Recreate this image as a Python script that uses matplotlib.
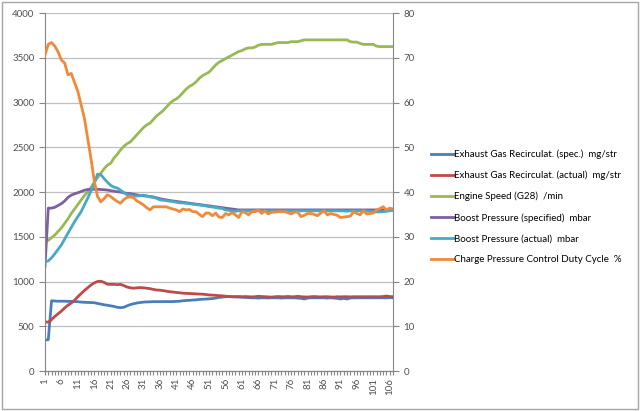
import matplotlib
matplotlib.use("Agg")
import matplotlib.pyplot as plt
from matplotlib.patches import Rectangle

plt.rcParams['font.family'] = ['Lato', 'DejaVu Sans']

# sample index 1..107
samples = list(range(1, 108))

egr_spec = [346, 350, 785, 782, 780, 780, 780, 778, 778, 775,
            775, 770, 768, 766, 765, 763, 755, 748, 740, 735,
            728, 722, 712, 708, 712, 728, 742, 752, 760, 765,
            770, 772, 773, 775, 775, 775, 775, 776, 775, 776,
            778, 780, 785, 788, 790, 793, 795, 800, 802, 804,
            806, 810, 815, 822, 826, 830, 832, 830, 828, 826,
            824, 822, 820, 818, 818, 815, 818, 818, 816, 818,
            818, 818, 815, 818, 818, 818, 818, 815, 812, 805,
            815, 818, 818, 818, 818, 818, 815, 818, 815, 812,
            805, 812, 805, 815, 818, 818, 818, 818, 818, 818,
            818, 818, 818, 818, 818, 820, 818]

egr_actual = [551, 545, 575, 610, 640, 670, 705, 735, 760, 790,
              830, 865, 900, 930, 960, 985, 1000, 1003, 990, 970,
              968, 968, 965, 968, 955, 938, 930, 925, 930, 932,
              930, 925, 920, 912, 905, 903, 898, 892, 886, 882,
              878, 874, 870, 867, 866, 864, 862, 860, 858, 855,
              850, 848, 846, 842, 840, 836, 832, 830, 830, 832,
              830, 832, 830, 828, 830, 835, 832, 830, 828, 826,
              830, 832, 830, 830, 833, 830, 830, 835, 830, 828,
              826, 830, 832, 830, 828, 830, 830, 828, 826, 830,
              828, 830, 830, 828, 830, 830, 830, 830, 830, 830,
              830, 830, 830, 832, 838, 832, 830]

engine_speed = [1450, 1460, 1490, 1520, 1560, 1600, 1650, 1700, 1760, 1810,
                1860, 1910, 1960, 2000, 2050, 2110, 2160, 2210, 2260, 2300,
                2320, 2380, 2420, 2470, 2510, 2540, 2560, 2600, 2640, 2680,
                2720, 2750, 2770, 2810, 2850, 2880, 2910, 2950, 2990, 3020,
                3040, 3070, 3110, 3150, 3180, 3200, 3230, 3270, 3300, 3320,
                3340, 3380, 3420, 3450, 3470, 3490, 3510, 3530, 3550, 3570,
                3580, 3600, 3610, 3610, 3620, 3640, 3650, 3650, 3650, 3650,
                3660, 3670, 3670, 3670, 3670, 3680, 3680, 3680, 3690, 3700,
                3700, 3700, 3700, 3700, 3700, 3700, 3700, 3700, 3700, 3700,
                3700, 3700, 3700, 3680, 3675, 3675, 3660, 3650, 3650, 3650,
                3650, 3630, 3625, 3625, 3625, 3625, 3625]

boost_spec = [1165, 1820, 1820, 1830, 1850, 1870, 1900, 1940, 1965, 1980,
              1992, 2005, 2020, 2028, 2030, 2030, 2030, 2028, 2025, 2022,
              2015, 2010, 2003, 2000, 1990, 1985, 1982, 1975, 1968, 1962,
              1958, 1955, 1950, 1945, 1935, 1925, 1918, 1912, 1905, 1900,
              1895, 1890, 1885, 1880, 1875, 1870, 1865, 1860, 1855, 1850,
              1845, 1840, 1835, 1830, 1825, 1820, 1815, 1810, 1805, 1800,
              1800, 1800, 1800, 1800, 1800, 1800, 1800, 1800, 1800, 1800,
              1800, 1800, 1800, 1800, 1800, 1800, 1800, 1800, 1800, 1800,
              1800, 1800, 1800, 1800, 1800, 1800, 1800, 1800, 1800, 1800,
              1800, 1800, 1800, 1800, 1800, 1800, 1800, 1800, 1800, 1800,
              1800, 1800, 1800, 1800, 1800, 1800, 1800]

boost_actual = [1221, 1230, 1265, 1310, 1360, 1410, 1475, 1540, 1605, 1668,
                1725, 1780, 1855, 1930, 2010, 2096, 2200, 2195, 2150, 2110,
                2075, 2055, 2045, 2020, 1995, 1970, 1960, 1955, 1955, 1960,
                1965, 1955, 1945, 1940, 1930, 1912, 1908, 1903, 1898, 1892,
                1886, 1880, 1878, 1874, 1870, 1864, 1860, 1855, 1850, 1845,
                1837, 1832, 1828, 1820, 1815, 1800, 1795, 1790, 1785, 1790,
                1790, 1790, 1790, 1790, 1790, 1790, 1790, 1790, 1790, 1790,
                1790, 1790, 1790, 1790, 1790, 1790, 1790, 1790, 1790, 1790,
                1790, 1790, 1790, 1790, 1790, 1790, 1790, 1790, 1790, 1790,
                1790, 1790, 1785, 1790, 1790, 1790, 1790, 1790, 1790, 1785,
                1780, 1778, 1778, 1780, 1785, 1790, 1795]

# duty cycle in %, on the secondary axis
duty_cycle = [70.6, 73.0, 73.4, 72.6, 71.3, 69.5, 68.8, 66.2, 66.5, 64.5,
              62.5, 59.5, 56.5, 52.0, 47.5, 42.5, 39.0, 37.8, 38.5, 39.4,
              39.0, 38.4, 37.9, 37.5, 38.3, 38.8, 38.9, 38.7, 38.0, 37.6,
              37.1, 36.5, 36.0, 36.7, 36.7, 36.7, 36.7, 36.7, 36.4, 36.2,
              36.0, 35.6, 36.2, 36.0, 36.1, 35.6, 35.6, 35.0, 34.5, 35.3,
              35.3, 34.7, 35.3, 34.4, 34.3, 35.2, 34.9, 35.4, 34.9, 34.3,
              35.6, 35.4, 34.9, 35.6, 35.6, 36.0, 35.2, 35.8, 35.1, 35.5,
              35.5, 35.6, 35.6, 35.6, 35.4, 35.1, 35.5, 35.5, 34.5, 34.8,
              35.2, 35.2, 35.0, 34.7, 35.3, 35.8, 34.9, 35.2, 35.0, 34.8,
              34.3, 34.4, 34.5, 34.6, 35.6, 35.2, 34.9, 35.8, 35.1, 35.2,
              35.3, 36.0, 36.3, 36.7, 36.0, 36.4, 36.2]

labels = ["Exhaust Gas Recirculat. (spec.)  mg/str",
          "Exhaust Gas Recirculat. (actual)  mg/str",
          "Engine Speed (G28)  /min",
          "Boost Pressure (specified)  mbar",
          "Boost Pressure (actual)  mbar",
          "Charge Pressure Control Duty Cycle  %"]
colors = ["#4A7EBB", "#BE4B48", "#98B954", "#7D60A0", "#46AAC5", "#F08A3A"]

fig = plt.figure(figsize=(6.4, 4.11), dpi=100)
ax = fig.add_axes([0.0703, 0.0973, 0.5437, 0.871])
ax2 = ax.twinx()

left_series = [egr_spec, egr_actual, engine_speed, boost_spec, boost_actual]
handles = []
for vals, lab, col in zip(left_series, labels[:5], colors[:5]):
    h, = ax.plot(samples, vals, color=col, lw=2, label=lab)
    handles.append(h)
h, = ax2.plot(samples, duty_cycle, color=colors[5], lw=2, label=labels[5])
handles.append(h)

grey = "#868686"
tick_col = "#505050"
ax.set_xlim(1, 107)
ax.set_ylim(0, 4000)
ax.set_yticks(range(0, 4001, 500))
ax2.set_ylim(0, 80)
ax2.set_yticks(range(0, 81, 10))
ax.set_xticks(samples)
ax.set_xticklabels([str(s) if (s - 1) % 5 == 0 else "" for s in samples],
                   rotation=90)

ax.grid(axis='y', color="#bfbfbf", lw=0.9)
ax.set_axisbelow(True)
for a in (ax, ax2):
    a.spines['top'].set_visible(False)
    for s in ('left', 'right', 'bottom'):
        a.spines[s].set_color(grey)
    a.tick_params(colors=grey, labelcolor=tick_col, labelsize=7, length=4, width=0.8)
ax.spines['right'].set_visible(False)
ax2.spines['left'].set_visible(False)
ax.tick_params(axis='x', length=3, pad=2)

fig.legend(handles=handles, labels=labels, loc='center left',
           bbox_to_anchor=(0.66, 0.497), frameon=False, fontsize=7,
           handlelength=2.3, handletextpad=0.1, labelspacing=1.2)

fig.add_artist(Rectangle((0.003, 0.006), 0.994, 0.99, transform=fig.transFigure,
                         fill=False, ec="#a6a6a6", lw=1))

fig.savefig("out.png", dpi=100)
